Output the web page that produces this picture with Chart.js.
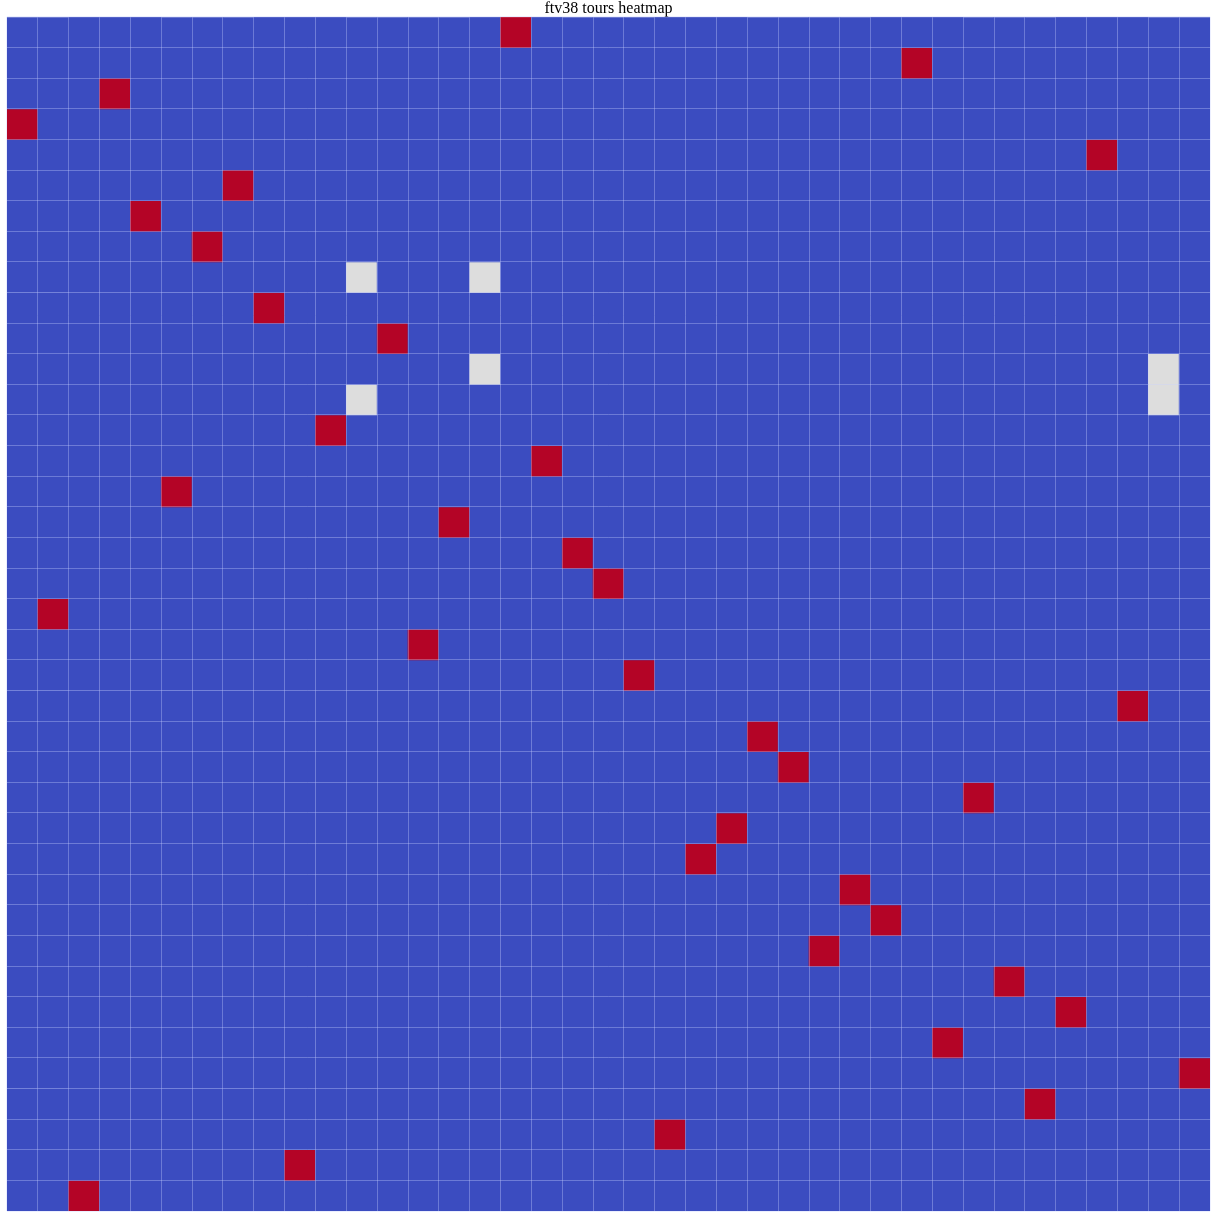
<!DOCTYPE html>
<html>
<head>
<meta charset="utf-8">
<script src="https://cdn.jsdelivr.net/npm/chart.js@4"></script>
<style>
  html, body { margin: 0; padding: 0; background: #ffffff; }
  #wrap { width: 1218px; height: 1218px; }
</style>
</head>
<body>
<div id="wrap"><canvas id="c" width="1218" height="1218"></canvas></div>
<script>
// Node labels (39 cities of ftv38)
const nodeLabels = Array.from({length: 39}, (_, k) => String(k));
// Non-zero entries of the tour matrix: row, column, value
const cellRows   = [0, 1, 2, 3, 4, 5, 6, 7, 8, 8, 9, 10, 11, 11, 12, 12, 13, 14, 15, 16, 17, 18, 19, 20, 21, 22, 23, 24, 25, 26, 27, 28, 29, 30, 31, 32, 33, 34, 35, 36, 37, 38];
const cellCols   = [16, 29, 3, 0, 35, 7, 4, 6, 11, 15, 8, 12, 15, 37, 11, 37, 10, 17, 5, 14, 18, 19, 1, 13, 20, 36, 24, 25, 31, 23, 22, 27, 28, 26, 32, 34, 30, 38, 33, 21, 9, 2];
const cellValues = [1, 1, 1, 1, 1, 1, 1, 1, 0.5, 0.5, 1, 1, 0.5, 0.5, 0.5, 0.5, 1, 1, 1, 1, 1, 1, 1, 1, 1, 1, 1, 1, 1, 1, 1, 1, 1, 1, 1, 1, 1, 1, 1, 1, 1, 1];

const N = nodeLabels.length;
const matrix = nodeLabels.map(() => nodeLabels.map(() => 0));
cellRows.forEach((r, k) => { matrix[r][cellCols[k]] = cellValues[k]; });

// coolwarm colormap samples
function coolwarm(v) {
  if (v >= 1) return '#b40426';
  if (v >= 0.5) return '#dddddd';
  return '#3b4cc0';
}

const datasets = matrix.map((row, i) => ({
  label: 'row ' + i,
  data: row.map(() => [i, i + 1]),
  backgroundColor: row.map(v => coolwarm(v)),
  borderColor: row.map(v => coolwarm(v)),
  borderWidth: 0,
  barPercentage: 1,
  categoryPercentage: 1,
  grouped: false
}));

const gridColor = 'rgba(200,210,255,0.35)';

new Chart(document.getElementById('c'), {
  type: 'bar',
  data: { labels: nodeLabels, datasets },
  options: {
    responsive: false,
    animation: false,
    layout: { padding: { left: 7, right: 8, top: 0, bottom: 7 } },
    plugins: {
      legend: { display: false },
      tooltip: { enabled: false },
      title: {
        display: true,
        text: 'ftv38 tours heatmap',
        color: '#000000',
        font: { family: '"Liberation Serif", "Times New Roman", serif', size: 16, weight: 'normal', lineHeight: 1.06 },
        padding: { top: 0, bottom: 0 }
      }
    },
    scales: {
      x: {
        type: 'category',
        offset: true,
        grid: { display: true, offset: true, z: 1, color: gridColor, lineWidth: 1, drawTicks: false },
        border: { display: false },
        ticks: { display: false }
      },
      y: {
        type: 'linear',
        min: 0,
        max: N,
        reverse: true,
        grid: { display: true, z: 1, color: gridColor, lineWidth: 1, drawTicks: false },
        border: { display: false },
        ticks: { display: false, stepSize: 1, maxTicksLimit: 100, autoSkip: false }
      }
    }
  }
});
</script>
</body>
</html>
